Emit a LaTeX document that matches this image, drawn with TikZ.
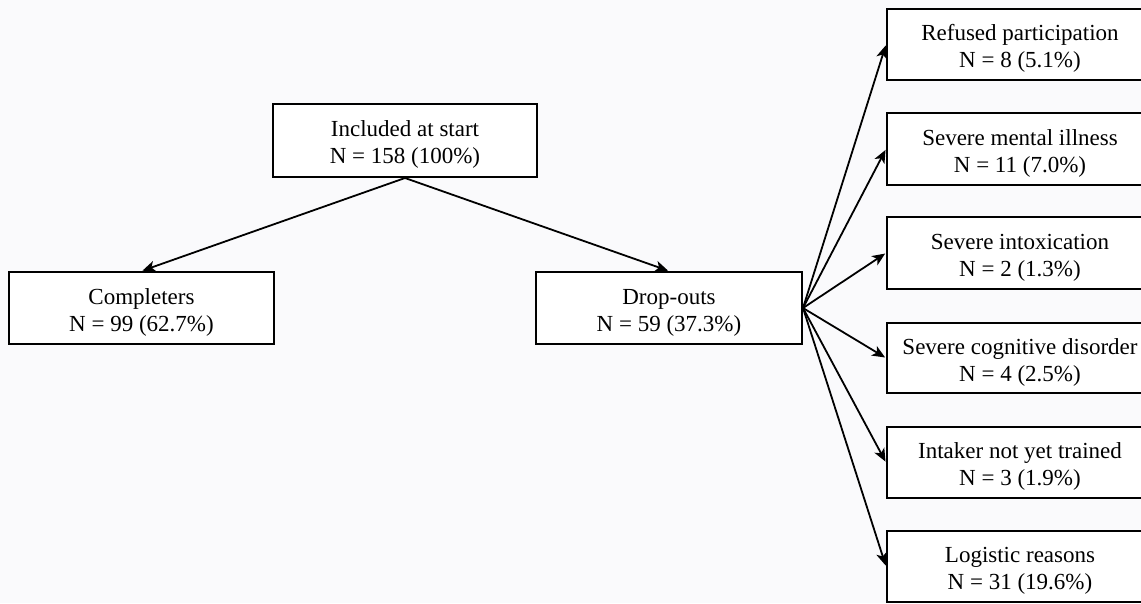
\documentclass[tikz,border=0pt]{standalone}
\usepackage{fontspec}
\setmainfont{Liberation Serif}
\usetikzlibrary{arrows.meta}
\definecolor{bgc}{RGB}{250,250,252}
\newcommand{\dn}{\rule{0pt}{24pt}}
\tikzset{
  box/.style={draw=black, line width=2pt, fill=white, minimum width=265pt, minimum height=72pt,
    inner sep=0pt, align=center, font=\fontsize{23}{27}\selectfont},
  conn/.style={line width=1.8pt, -{Stealth[length=13pt,width=11pt,inset=3.5pt]}, shorten >=1pt}
}
\begin{document}
\begin{tikzpicture}[x=1pt,y=-1pt]
\fill[bgc] (0,0) rectangle (1141,603);
\useasboundingbox (0,0) rectangle (1141,603);
\node[box, minimum width=264pt, minimum height=73pt] (inc) at (405,140.5) {\dn Included at start\\N = 158 (100\%)};
\node[box] (comp) at (141.5,308) {\dn Completers\\N = 99 (62.7\%)};
\node[box, minimum width=266pt] (drop) at (669,308) {\dn Drop-outs\\N = 59 (37.3\%)};
\node[box, minimum width=266pt, minimum height=71pt] (r1) at (1020,44.5) {\dn Refused participation\\N = 8 (5.1\%)};
\node[box, minimum width=266pt] (r2) at (1020,149) {\dn Severe mental illness\\N = 11 (7.0\%)};
\node[box, minimum width=266pt] (r3) at (1020,253) {\dn Severe intoxication\\N = 2 (1.3\%)};
\node[box, minimum width=266pt, minimum height=70pt] (r4) at (1020,358) {\dn Severe cognitive disorder\\N = 4 (2.5\%)};
\node[box, minimum width=266pt, minimum height=71pt] (r5) at (1020,462.5) {\dn Intaker not yet trained\\N = 3 (1.9\%)};
\node[box, minimum width=266pt, minimum height=71pt] (r6) at (1020,566.5) {\dn Logistic reasons\\N = 31 (19.6\%)};
\draw[conn] (inc.south) -- (comp.north);
\draw[conn] (inc.south) -- (drop.north);
\foreach \r in {r1,r2,r3,r4,r5,r6}{
  \draw[conn] (drop.east) -- (\r.west);
}
\end{tikzpicture}
\end{document}
